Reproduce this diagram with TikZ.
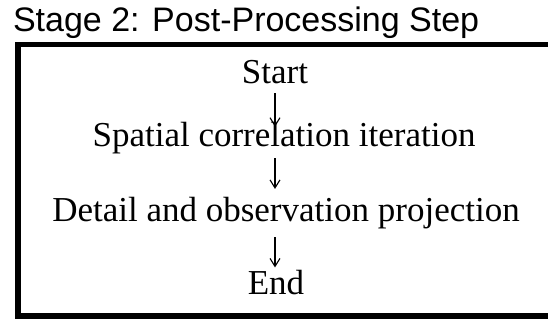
\documentclass[tikz,border=0pt]{standalone}
\usepackage{fontspec}
\setmainfont{Liberation Serif}
\newfontfamily\titlefont{Liberation Sans}
\usetikzlibrary{arrows.meta,positioning}

\begin{document}
\begin{tikzpicture}[
    x=0.5pt, y=-0.5pt,
    every node/.style={inner sep=0pt, outer sep=0pt},
    steptext/.style={anchor=base, font=\fontsize{17.5}{21}\selectfont},
    stagetitle/.style={anchor=base west, font=\titlefont\fontsize{17}{20}\selectfont},
    frame/.style={draw, line width=2.75pt},
    flow/.style={-{Straight Barb[length=4pt,width=5pt]}, line width=0.55pt}
]
    \useasboundingbox (0,0) rectangle (548,320);

    % Title
    \node[stagetitle] (title) at (13,32) {Stage 2: Post-Processing Step};

    % Frame (runs off the right side)
    \draw[frame] (580,44.5) -- (18,44.5) -- (18,316) -- (580,316);

    % Steps
    \node[steptext] (start) at (275,84) {Start};
    \node[steptext] (spatial) at (284,147) {Spatial correlation iteration};
    \node[steptext] (detail) at (286,222) {Detail and observation projection};
    \node[steptext] (finish) at (276,294.5) {End};

    % Arrows, all on the axis of the start node
    \draw[flow, shorten <=4.5pt, shorten >=-2pt] (start.south) -- (start.south |- spatial.north);
    \draw[flow, shorten <=1.8pt, shorten >=4.4pt] (spatial.south -| start) -- (detail.north -| start);
    \draw[flow, shorten <=3.8pt, shorten >=1.4pt] (detail.south -| start) -- (finish.north -| start);
\end{tikzpicture}
\end{document}
